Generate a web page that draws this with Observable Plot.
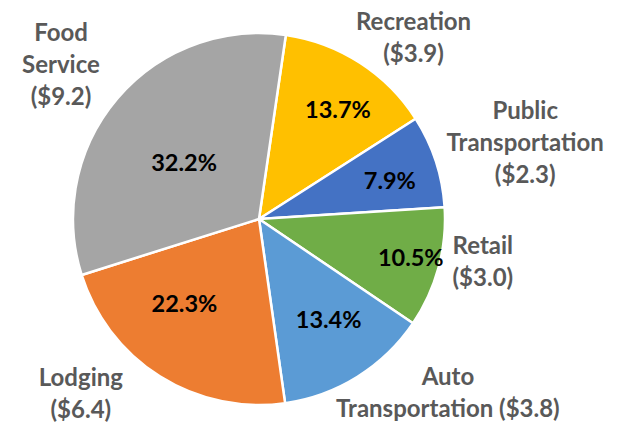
<!DOCTYPE html>
<html>
<head>
<meta charset="utf-8">
<script src="https://cdn.jsdelivr.net/npm/d3@7"></script>
<script src="https://cdn.jsdelivr.net/npm/@observablehq/plot@0.6"></script>
<style>
  html, body { margin: 0; padding: 0; background: #fff; }
  #chart svg { display: block; }
</style>
</head>
<body>
<div id="chart"></div>
<script>
// ---- data ----
const categories = ["Recreation", "Public Transportation", "Retail", "Auto Transportation", "Lodging", "Food Service"];
const values = [3.9, 2.3, 3.0, 3.8, 6.4, 9.2];          // $ billions
const pctLabels = ["13.7%", "7.9%", "10.5%", "13.4%", "22.3%", "32.2%"];
const nameLabels = ["Recreation\n($3.9)", "Public\nTransportation\n($2.3)", "Retail\n($3.0)",
                    "Auto\nTransportation ($3.8)", "Lodging\n($6.4)", "Food\nService\n($9.2)"];
const colors = ["#FFC000", "#4472C4", "#70AD47", "#5B9BD5", "#ED7D31", "#A5A5A5"];

// ---- layout ----
const W = 623, H = 425, cx = 259, cy = 219, R = 186;
const startDeg = 8.3;
// label placement: [angle offset from slice middle (deg), radius as fraction of R]
const pctPlace  = [[3, 0.72], [1.8, 0.73], [-0.7, 0.84], [-2.3, 0.66], [9.2, 0.61], [-3.8, 0.505]];
const namePlace = [[7.1, 1.29], [1.6, 1.49], [-5, 1.22], [-15.7, 1.37], [13.8, 1.335], [-2.1, 1.36]];

const rad = Math.PI / 180;
const arcs = d3.pie().sort(null).startAngle(startDeg * rad).endAngle((startDeg + 360) * rad)(values);
const slices = arcs.map((a, i) => ({
  name: categories[i], value: values[i], color: colors[i],
  startAngle: a.startAngle, endAngle: a.endAngle, mid: (a.startAngle + a.endAngle) / 2
}));
const polar = (ang, r) => ({x: r * Math.sin(ang), y: r * Math.cos(ang)});
const pctData = slices.map((s, i) => ({...polar(s.mid + pctPlace[i][0] * rad, pctPlace[i][1]), label: pctLabels[i]}));
const nameData = slices.map((s, i) => ({...polar(s.mid + namePlace[i][0] * rad, namePlace[i][1]), label: nameLabels[i]}));

// pie slices drawn through Plot's x/y scales
const pieMark = (index, scales) => {
  const x0 = scales.x(0), y0 = scales.y(0);
  const r = scales.x(1) - scales.x(0);
  const arc = d3.arc().innerRadius(0).outerRadius(r);
  const g = d3.create("svg:g").attr("transform", `translate(${x0},${y0})`);
  g.selectAll("path").data(slices).join("path")
    .attr("d", d => arc(d))
    .attr("fill", d => d.color)
    .attr("stroke", "#fff")
    .attr("stroke-width", 2.5)
    .attr("stroke-linejoin", "round");
  return g.node();
};

const font = "Lato, 'Open Sans', sans-serif";
const chart = Plot.plot({
  width: W, height: H,
  margin: 0,
  style: {fontFamily: font, background: "#fff"},
  x: {domain: [-cx / R, (W - cx) / R], axis: null},
  y: {domain: [-(H - cy) / R, cy / R], axis: null},
  marks: [
    pieMark,
    Plot.text(pctData, {x: "x", y: "y", text: "label", fontSize: 23.5, fontWeight: "bold", fill: "#000"}),
    Plot.text(nameData, {x: "x", y: "y", text: "label", fontSize: 24, fontWeight: "bold", fill: "#595959", lineHeight: 1.34})
  ]
});
document.getElementById("chart").appendChild(chart);
</script>
</body>
</html>
